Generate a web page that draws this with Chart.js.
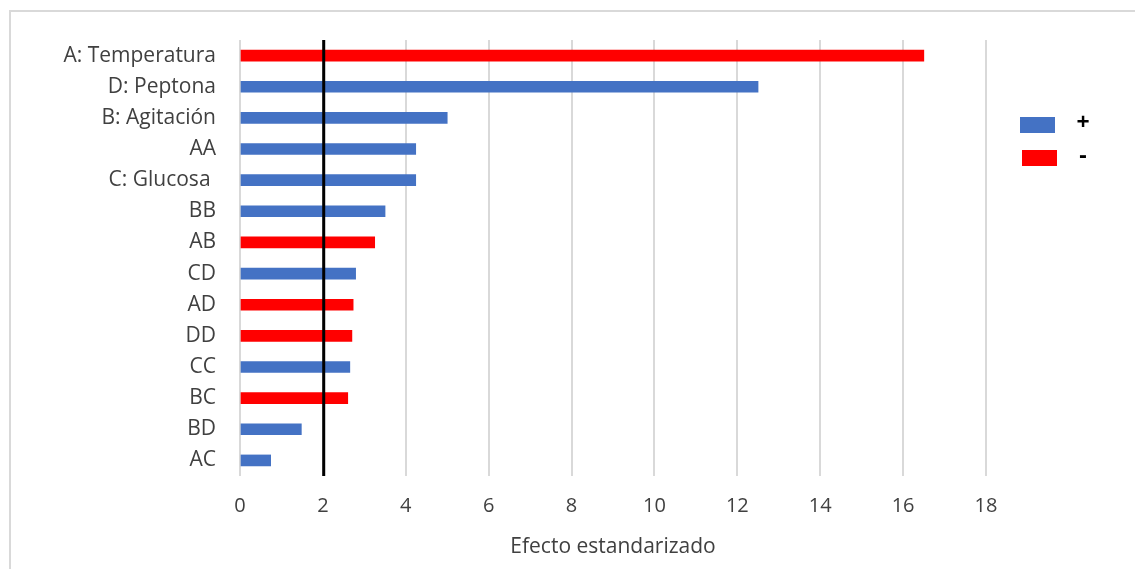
<!DOCTYPE html>
<html>
<head>
<meta charset="utf-8">
<script src="https://cdn.jsdelivr.net/npm/chart.js@4"></script>
<style>
  body { margin: 0; background: #fff; }
  #wrap { position: relative; width: 1135px; height: 569px; overflow: hidden; }
  #frame { position: absolute; left: 9px; top: 10px; width: 1200px; height: 700px; border: 2px solid #d9d9d9; }
  canvas { position: absolute; left: 0; top: 0; }
</style>
</head>
<body>
<div id="wrap">
  <div id="frame"></div>
  <canvas id="myChart" width="1135" height="569"></canvas>
</div>
<script>
// factors, sorted as in the pareto chart
const categories = ["A: Temperatura", "D: Peptona", "B: Agitación", "AA", "C: Glucosa ", "BB", "AB", "CD", "AD", "DD", "CC", "BC", "BD", "AC"];
const effects = [16.5, 12.5, 5.0, 4.24, 4.24, 3.5, 3.25, 2.79, 2.73, 2.7, 2.65, 2.6, 1.48, 0.74];
const signs = ["-", "+", "+", "+", "+", "+", "-", "+", "-", "-", "+", "-", "+", "+"];
const xTicks = [0, 2, 4, 6, 8, 10, 12, 14, 16, 18];
const critValue = 2.02;

const textColor = "#404040";
const fontFamily = "'Open Sans', sans-serif";

const plusValues = effects.map((v, i) => signs[i] === "+" ? v : null);
const minusValues = effects.map((v, i) => signs[i] === "-" ? v : null);

// vertical reference line at the critical value
const critLine = {
  id: "critLine",
  afterDatasetsDraw(chart) {
    const { ctx, chartArea, scales } = chart;
    const x = scales.x.getPixelForValue(critValue);
    ctx.save();
    ctx.strokeStyle = "#000";
    ctx.lineWidth = 3;
    ctx.beginPath();
    ctx.moveTo(x, chartArea.top);
    ctx.lineTo(x, chartArea.bottom);
    ctx.stroke();
    ctx.restore();
  }
};

// legend drawn by hand at the right side
const sideLegend = {
  id: "sideLegend",
  afterDraw(chart) {
    const ctx = chart.ctx;
    let y = 117;
    chart.data.datasets.forEach((ds, i) => {
      const x = i === 0 ? 1020 : 1022;
      ctx.fillStyle = ds.backgroundColor;
      ctx.fillRect(x, y, 35, 16);
      ctx.fillStyle = "#000";
      ctx.font = "bold 23px " + fontFamily;
      ctx.textAlign = "center";
      ctx.textBaseline = "middle";
      ctx.fillText(ds.label, 1083, y + 6);
      y += 33;
    });
  }
};

new Chart("myChart", {
  type: "bar",
  data: {
    labels: categories,
    datasets: [
      { label: "+", data: plusValues, backgroundColor: "#4472C4", barThickness: 11, skipNull: true },
      { label: "-", data: minusValues, backgroundColor: "#FF0000", barThickness: 11, skipNull: true }
    ]
  },
  options: {
    indexAxis: "y",
    responsive: false,
    animation: false,
    layout: { padding: { top: 40, right: 149, bottom: 0, left: 0 } },
    plugins: {
      legend: { display: false },
      tooltip: { enabled: false }
    },
    scales: {
      x: {
        min: 0,
        max: 18,
        afterBuildTicks: (scale) => { scale.ticks = xTicks.map(v => ({ value: v })); },
        afterFit: (scale) => { scale.height = 93; },
        grid: { color: "#d9d9d9", lineWidth: 2, drawTicks: false },
        border: { display: false },
        ticks: { color: textColor, font: { family: fontFamily, size: 20 }, padding: 18 },
        title: {
          display: true,
          text: "Efecto estandarizado",
          color: textColor,
          font: { family: fontFamily, size: 21 },
          padding: { top: 0, bottom: 9 }
        }
      },
      y: {
        afterFit: (scale) => { scale.width = 240; },
        grid: { display: false, drawTicks: false },
        border: { display: false },
        ticks: { color: textColor, font: { family: fontFamily, size: 21 }, padding: 24, autoSkip: false }
      }
    }
  },
  plugins: [critLine, sideLegend]
});
</script>
</body>
</html>
